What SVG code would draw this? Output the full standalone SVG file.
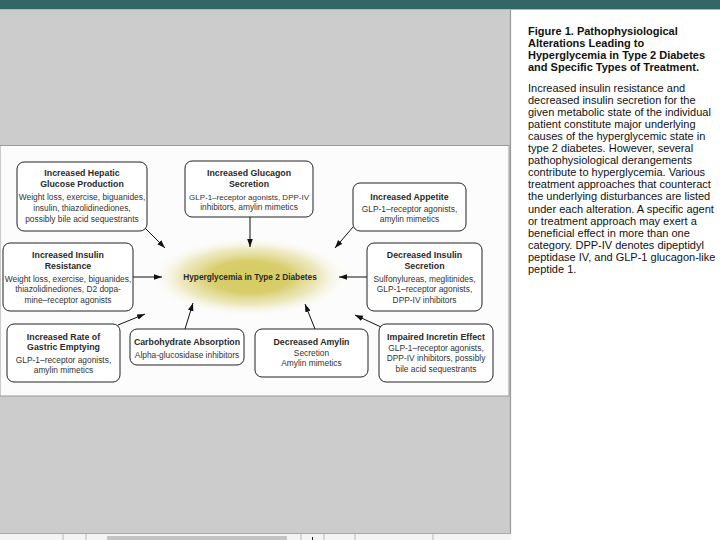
<svg xmlns="http://www.w3.org/2000/svg" width="720" height="540" viewBox="0 0 720 540">
<defs>
<style>
.box{fill:#fff;stroke:#222;stroke-width:1}
.t{font-family:"Liberation Sans",Arial,sans-serif;font-size:8.8px;font-weight:bold;fill:#2a2a2a;text-anchor:middle}
.b{font-family:"Liberation Sans",Arial,sans-serif;font-size:8.4px;fill:#333;text-anchor:middle}
.c{stroke:#111;stroke-width:1;fill:none;marker-end:url(#ah)}
.cap{font-family:"Liberation Sans",Arial,sans-serif;font-size:11px;fill:#111}
.capb{font-family:"Liberation Sans",Arial,sans-serif;font-size:11px;font-weight:bold;fill:#111}
.cell{stroke:#b8b8b8;stroke-width:1}
</style>
<marker id="ah" viewBox="0 0 10 10" refX="10" refY="5" markerWidth="8" markerHeight="8" markerUnits="userSpaceOnUse" orient="auto">
<path d="M0,1.5 L10,5 L0,8.5 z" fill="#111"/>
</marker>
<radialGradient id="glow" cx="0.5" cy="0.5" r="0.5">
<stop offset="0" stop-color="#d6cd60"/>
<stop offset="0.4" stop-color="#d3c85c" stop-opacity="0.9"/>
<stop offset="0.7" stop-color="#e4dc98" stop-opacity="0.6"/>
<stop offset="1" stop-color="#ffffff" stop-opacity="0"/>
</radialGradient>
</defs>
<!-- background frame -->
<rect x="0" y="0" width="720" height="540" fill="#ffffff"/>
<rect x="0" y="9" width="511" height="524" fill="#cccccc"/>
<line x1="510.5" y1="9" x2="510.5" y2="533" stroke="#999" stroke-width="1.2"/>
<rect x="0" y="0" width="720" height="9" fill="#336666"/>
<line x1="0" y1="9.5" x2="720" y2="9.5" stroke="#a8bcbc" stroke-width="1"/>
<!-- bottom bar -->
<rect x="0" y="533" width="511" height="7" fill="#f4f4f4"/>
<line x1="0" y1="533.5" x2="511" y2="533.5" stroke="#aaa"/>
<g class="cell">
<line x1="63" y1="534" x2="63" y2="540"/>
<line x1="86" y1="534" x2="86" y2="540"/>
<line x1="301" y1="534" x2="301" y2="540"/>
<line x1="324" y1="534" x2="324" y2="540"/>
<line x1="355" y1="534" x2="355" y2="540"/>
<line x1="433" y1="534" x2="433" y2="540"/>
</g>
<rect x="107" y="536" width="180" height="4" fill="#c4c4c4"/>
<line x1="312.5" y1="537" x2="312.5" y2="540" stroke="#222"/>
<!-- figure panel -->
<rect x="0" y="145.5" width="509" height="250.5" fill="#fcfcfc" stroke="#9a9a9a" stroke-width="1"/>
<ellipse cx="250" cy="277" rx="100" ry="40" fill="url(#glow)"/>
<g id="center">
<text class="t" x="250" y="280" style="font-size:8.3px">Hyperglycemia in Type 2 Diabetes</text>
</g>
<g id="connectors">
<line class="c" x1="145" y1="228" x2="165" y2="248"/>
<line class="c" x1="250" y1="217" x2="250" y2="247"/>
<line class="c" x1="353" y1="227" x2="335" y2="248"/>
<line class="c" x1="133" y1="277" x2="162" y2="277"/>
<line class="c" x1="367" y1="277" x2="339" y2="277"/>
<line class="c" x1="118" y1="325" x2="145" y2="314"/>
<line class="c" x1="185" y1="329" x2="193" y2="303"/>
<line class="c" x1="315" y1="329" x2="305" y2="304"/>
<line class="c" x1="381" y1="327" x2="355" y2="315"/>
</g>
<g id="hepatic">
<rect class="box" x="17" y="162" width="130" height="69" rx="7"/>
<text class="t" x="82" y="176">Increased Hepatic</text>
<text class="t" x="82" y="187">Glucose Production</text>
<text class="b" x="82" y="200">Weight loss, exercise, biguanides,</text>
<text class="b" x="82" y="211">insulin, thiazolidinediones,</text>
<text class="b" x="82" y="222">possibly bile acid sequestrants</text>
</g>
<g id="glucagon">
<rect class="box" x="185" y="161" width="128" height="56" rx="7"/>
<text class="t" x="249" y="176">Increased Glucagon</text>
<text class="t" x="249" y="187">Secretion</text>
<text class="b" x="249" y="200" style="font-size:8px">GLP-1–receptor agonists, DPP-IV</text>
<text class="b" x="249" y="210">inhibitors, amylin mimetics</text>
</g>
<g id="appetite">
<rect class="box" x="353" y="183" width="113" height="48" rx="7"/>
<text class="t" x="409.5" y="200">Increased Appetite</text>
<text class="b" x="409.5" y="212">GLP-1–receptor agonists,</text>
<text class="b" x="409.5" y="222">amylin mimetics</text>
</g>
<g id="resistance">
<rect class="box" x="3" y="243" width="130" height="68" rx="7"/>
<text class="t" x="68" y="258">Increased Insulin</text>
<text class="t" x="68" y="269">Resistance</text>
<text class="b" x="68" y="282">Weight loss, exercise, biguanides,</text>
<text class="b" x="68" y="292">thiazolidinediones, D2 dopa-</text>
<text class="b" x="68" y="303">mine–receptor agonists</text>
</g>
<g id="secretion">
<rect class="box" x="367" y="243" width="115" height="68" rx="7"/>
<text class="t" x="424.5" y="258">Decreased Insulin</text>
<text class="t" x="424.5" y="269">Secretion</text>
<text class="b" x="424.5" y="282">Sulfonylureas, meglitinides,</text>
<text class="b" x="424.5" y="292">GLP-1–receptor agonists,</text>
<text class="b" x="424.5" y="303">DPP-IV inhibitors</text>
</g>
<g id="gastric">
<rect class="box" x="7" y="324" width="113" height="58" rx="7"/>
<text class="t" x="63.5" y="340">Increased Rate of</text>
<text class="t" x="63.5" y="350">Gastric Emptying</text>
<text class="b" x="63.5" y="363">GLP-1–receptor agonists,</text>
<text class="b" x="63.5" y="373">amylin mimetics</text>
</g>
<g id="carbohydrate">
<rect class="box" x="130" y="329" width="114" height="36" rx="7"/>
<text class="t" x="187" y="345">Carbohydrate Absorption</text>
<text class="b" x="187" y="358">Alpha-glucosidase inhibitors</text>
</g>
<g id="amylin">
<rect class="box" x="255" y="329" width="113" height="48" rx="7"/>
<text class="t" x="311.5" y="345">Decreased Amylin</text>
<text class="b" x="311.5" y="356">Secretion</text>
<text class="b" x="311.5" y="366">Amylin mimetics</text>
</g>
<g id="incretin">
<rect class="box" x="379" y="324" width="114" height="58" rx="7"/>
<text class="t" x="436" y="340">Impaired Incretin Effect</text>
<text class="b" x="436" y="351">GLP-1–receptor agonists,</text>
<text class="b" x="436" y="361">DPP-IV inhibitors, possibly</text>
<text class="b" x="436" y="372">bile acid sequestrants</text>
</g>
<!-- caption -->
<g id="caption">
<text class="capb" x="528" y="35">Figure 1. Pathophysiological</text>
<text class="capb" x="528" y="47">Alterations Leading to</text>
<text class="capb" x="528" y="59">Hyperglycemia in Type 2 Diabetes</text>
<text class="capb" x="528" y="71">and Specific Types of Treatment.</text>
<text class="cap" x="528" y="92">Increased insulin resistance and</text>
<text class="cap" x="528" y="104">decreased insulin secretion for the</text>
<text class="cap" x="528" y="116">given metabolic state of the individual</text>
<text class="cap" x="528" y="128">patient constitute major underlying</text>
<text class="cap" x="528" y="140">causes of the hyperglycemic state in</text>
<text class="cap" x="528" y="152">type 2 diabetes. However, several</text>
<text class="cap" x="528" y="164">pathophysiological derangements</text>
<text class="cap" x="528" y="176">contribute to hyperglycemia. Various</text>
<text class="cap" x="528" y="188">treatment approaches that counteract</text>
<text class="cap" x="528" y="200">the underlying disturbances are listed</text>
<text class="cap" x="528" y="213">under each alteration. A specific agent</text>
<text class="cap" x="528" y="225">or treatment approach may exert a</text>
<text class="cap" x="528" y="237">beneficial effect in more than one</text>
<text class="cap" x="528" y="249">category. DPP-IV denotes dipeptidyl</text>
<text class="cap" x="528" y="261">peptidase IV, and GLP-1 glucagon-like</text>
<text class="cap" x="528" y="273">peptide 1.</text>
</g>
</svg>
